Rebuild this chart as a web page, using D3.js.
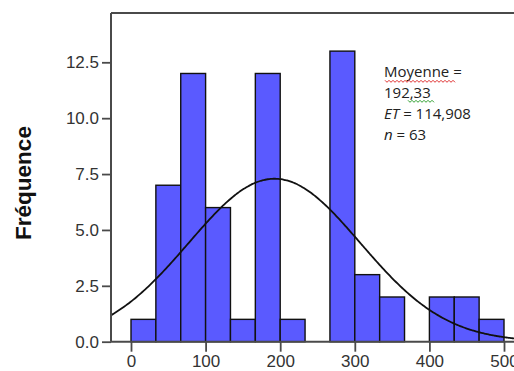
<!DOCTYPE html>
<html>
<head>
<meta charset="utf-8">
<script src="https://cdn.jsdelivr.net/npm/d3@7"></script>
<style>
  body { margin: 0; background: #fff; }
  svg { display: block; }
</style>
</head>
<body>
<svg id="chart" width="514" height="371"></svg>
<script>
// histogram bins (lower edge, width 33.33) and counts
const binStarts = [0, 33.33, 66.67, 100, 133.33, 166.67, 200, 233.33, 266.67, 300, 333.33, 366.67, 400, 433.33, 466.67];
const counts = [1, 7, 12, 6, 1, 12, 1, 0, 13, 3, 2, 0, 2, 2, 1];
const binWidth = 100 / 3;
const yTicks = [0, 2.5, 5, 7.5, 10, 12.5];
const xTicks = [0, 100, 200, 300, 400, 500];
const mean = 192.33, sd = 114.908, n = 63;
const statLines = ["Moyenne =", "192,33", "ET = 114,908", "n = 63"];

const svg = d3.select('#chart');
const plotLeft = 111, plotTop = 13, plotRight = 520, plotBottom = 341.7;

const x = d3.scaleLinear().domain([0, 500]).range([131, 504]);
const y = d3.scaleLinear().domain([0, 12.5]).range([plotBottom, 62.3]);
const xMin = x.invert(plotLeft), xMax = x.invert(plotRight);

// bars
svg.append('g').selectAll('rect')
  .data(counts.map((c, i) => ({ x0: binStarts[i], c })).filter(d => d.c > 0))
  .join('rect')
  .attr('x', d => x(d.x0))
  .attr('y', d => y(d.c))
  .attr('width', d => x(d.x0 + binWidth) - x(d.x0))
  .attr('height', d => y(0) - y(d.c))
  .attr('fill', '#5a5aff')
  .attr('stroke', '#111')
  .attr('stroke-width', 1.4);

// normal curve
const curvePts = d3.range(xMin, xMax, 2).map(v => [v,
  n * binWidth / (sd * Math.sqrt(2 * Math.PI)) * Math.exp(-0.5 * Math.pow((v - mean) / sd, 2))]);
svg.append('path')
  .datum(curvePts)
  .attr('d', d3.line().x(d => x(d[0])).y(d => y(d[1])).curve(d3.curveBasis))
  .attr('fill', 'none')
  .attr('stroke', '#111')
  .attr('stroke-width', 1.8);

// frame
svg.append('line').attr('x1', plotLeft).attr('x2', plotRight).attr('y1', plotTop).attr('y2', plotTop)
  .attr('stroke', '#4a4a4a').attr('stroke-width', 2);
svg.append('line').attr('x1', plotLeft).attr('x2', plotLeft).attr('y1', plotTop).attr('y2', plotBottom)
  .attr('stroke', '#4a4a4a').attr('stroke-width', 2);

// axes
const yAxis = svg.append('g').attr('transform', `translate(${plotLeft},0)`)
  .call(d3.axisLeft(y).tickValues(yTicks).tickFormat(d3.format('.1f')).tickSize(9).tickPadding(3));
const xAxis = svg.append('g').attr('transform', `translate(0,${plotBottom})`)
  .call(d3.axisBottom(x).tickValues(xTicks).tickSize(10).tickPadding(3));
[xAxis, yAxis].forEach(a => {
  a.select('.domain').remove();
  a.selectAll('line').attr('stroke', '#4a4a4a').attr('stroke-width', 1.8);
  a.selectAll('text').attr('fill', '#333').style('font-family', 'Liberation Sans, Arial, sans-serif').style('font-size', '17px');
});
svg.append('line').attr('x1', plotLeft).attr('x2', plotRight).attr('y1', plotBottom).attr('y2', plotBottom)
  .attr('stroke', '#4a4a4a').attr('stroke-width', 2);

// y title
svg.append('text')
  .attr('transform', 'translate(31,183) rotate(-90)')
  .attr('text-anchor', 'middle')
  .style('font-family', 'Liberation Sans, Arial, sans-serif')
  .style('font-weight', 'bold')
  .style('font-size', '22.5px')
  .attr('fill', '#111')
  .text('Fréquence');

// stats annotation
const stats = svg.append('g').style('font-family', 'Open Sans, Liberation Sans, sans-serif')
  .style('font-size', '15px').attr('fill', '#222');
statLines.forEach((s, i) => {
  const t = stats.append('text').attr('x', 384).attr('y', 77 + i * 21.1);
  if (s.startsWith('ET')) {
    t.append('tspan').style('font-style', 'italic').text('ET');
    t.append('tspan').text(s.slice(2));
  } else if (s.startsWith('n ')) {
    t.append('tspan').style('font-style', 'italic').text('n');
    t.append('tspan').text(s.slice(1));
  } else t.text(s);
});

// spell-check squiggles
function squiggle(x0, x1, yy, color) {
  const pts = d3.range(x0, x1 + 0.1, 2).map((v, i) => [v, yy + (i % 2 ? 1.3 : -0.7)]);
  svg.append('path').attr('d', d3.line()(pts)).attr('fill', 'none')
    .attr('stroke', color).attr('stroke-width', 1);
}
squiggle(385, 455, 81, '#e03030');
squiggle(408, 435, 101, '#30a030');
</script>
</body>
</html>
